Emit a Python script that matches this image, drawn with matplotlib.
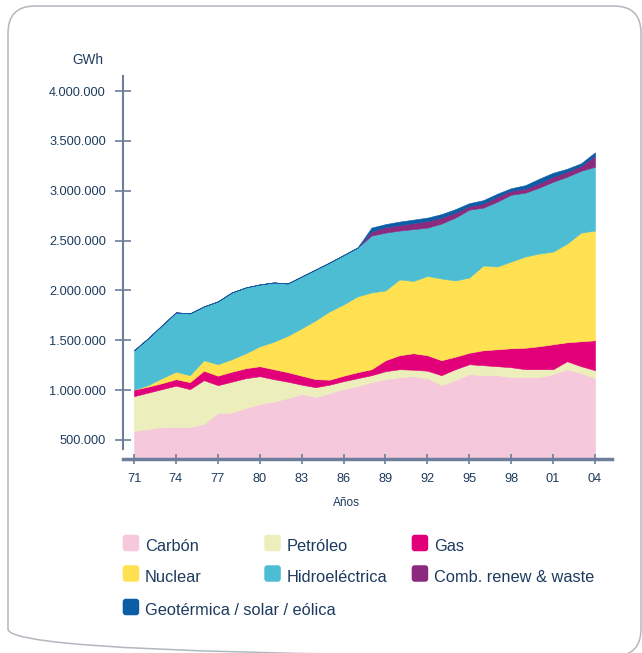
import matplotlib
matplotlib.use("Agg")
import matplotlib.pyplot as plt
from matplotlib.patches import FancyBboxPatch
from matplotlib.ticker import FuncFormatter

plt.rcParams['font.family'] = ['Liberation Sans', 'DejaVu Sans']

# ---------------- data (thousand GWh) ----------------
years = list(range(1971, 2005))
carbon = [590, 610, 630, 630, 630, 660, 770, 775, 820, 860, 885, 920, 960, 930, 970, 1010, 1040,
          1080, 1110, 1130, 1140, 1120, 1050, 1100, 1160, 1150, 1150, 1130, 1130, 1130, 1160, 1210, 1170, 1120]
petroleo = [350, 365, 380, 415, 380, 440, 280, 310, 300, 280, 225, 165, 95, 100, 85, 80, 80,
            70, 80, 80, 65, 75, 100, 110, 100, 100, 90, 100, 80, 80, 50, 80, 70, 80]
gas = [65, 60, 60, 65, 70, 95, 95, 100, 100, 100, 100, 95, 90, 80, 50, 55, 60,
       60, 110, 140, 165, 155, 150, 125, 115, 150, 170, 190, 215, 230, 250, 190, 250, 300]
nuclear = [0, 15, 50, 75, 70, 105, 115, 125, 150, 200, 275, 365, 475, 590, 685, 715, 760,
           770, 700, 760, 725, 795, 820, 765, 755, 850, 830, 870, 915, 930, 930, 990, 1090, 1100]
hidro = [395, 470, 530, 595, 620, 540, 630, 670, 660, 620, 595, 525, 520, 510, 490, 495, 490,
         570, 580, 490, 520, 485, 550, 630, 680, 580, 650, 670, 640, 660, 700, 670, 620, 640]
renew = [0] * 17 + [40, 55, 55, 60, 65, 60, 50, 35, 40, 50, 40, 40, 45, 50, 50, 50, 110]
geo = [0] * 17 + [40, 30, 35, 35, 35, 35, 35, 30, 35, 30, 25, 35, 45, 40, 30, 25, 35]

series = [carbon, petroleo, gas, nuclear, hidro, renew, geo]
labels = ["Carbón", "Petróleo", "Gas", "Nuclear", "Hidroeléctrica",
          "Comb. renew & waste", "Geotérmica / solar / eólica"]
colors = ["#F5C8DB", "#ECEEBB", "#E2007A", "#FFE152", "#4DBDD3", "#8C2A7E", "#0B5DA6"]

xtick_years = list(range(1971, 2005, 3))
xtick_labels = ["71", "74", "77", "80", "83", "86", "89", "92", "95", "98", "01", "04"]
yticks = list(range(500000, 4000001, 500000))

# ---------------- layout ----------------
W, H = 642, 653
NAVY = "#1D3A5E"
AXC = "#6D7D9C"

fig = plt.figure(figsize=(W / 100, H / 100), dpi=100)

# overlay in pixel coords
ov = fig.add_axes([0, 0, 1, 1])
ov.set_xlim(0, W)
ov.set_ylim(H, 0)
ov.axis("off")
ov.patch.set_alpha(0)
ov.add_patch(FancyBboxPatch((8, 6), 633, 650, boxstyle="round,pad=0,rounding_size=27",
                            fill=False, ec="#B3B7BF", lw=1.1, clip_on=False))

# legend
col_x = [122.7, 264.3, 411.7]
row_y = [543, 573.5, 607]
sq = 16.5
for i, (lab, c) in enumerate(zip(labels, colors)):
    r, k = divmod(i, 3)
    x0, yc = col_x[k], row_y[r]
    ov.add_patch(FancyBboxPatch((x0, yc - sq / 2), sq, sq, boxstyle="round,pad=0,rounding_size=3",
                                fc=c, ec="none"))
    ov.text(x0 + 22.4, yc + 8, lab, fontsize=11.8, color=NAVY, ha="left", va="baseline")

ov.text(88, 60, "GWh", fontsize=9.8, color=NAVY, ha="center", va="center")
ov.text(346, 503, "Años", fontsize=8.5, color=NAVY, ha="center", va="center")

# main axes
axl, axr, axt, axb = 123, 612, 76, 459
ax = fig.add_axes([axl / W, 1 - axb / H, (axr - axl) / W, (axb - axt) / H])
ax.patch.set_alpha(0)

ppy = (595 - 134) / 33.0
ax.set_xlim(1971 - (134 - axl) / ppy, 2004 + (axr - 595) / ppy)
ppm = (440 - 91) / 3.5e6
y0 = 500000 - (axb - 440) / ppm
y1 = 4000000 + (91 - axt) / ppm
ax.set_ylim(y0, y1)

vals = [[v * 1000 for v in s] for s in series]
ax.stackplot(years, *vals, colors=colors, linewidth=0.4, edgecolor="face")

for s in ["top", "right"]:
    ax.spines[s].set_visible(False)
ax.spines["left"].set_color(AXC)
ax.spines["left"].set_linewidth(1.5)
ax.spines["left"].set_bounds(500000 - (449 - 440) / ppm, y1)
ax.spines["bottom"].set_color(AXC)
ax.spines["bottom"].set_linewidth(2.5)

ax.set_yticks(yticks)
ax.yaxis.set_major_formatter(FuncFormatter(lambda v, p: f"{int(round(v)):,}".replace(",", ".")))
ax.set_xticks(xtick_years)
ax.set_xticklabels(xtick_labels)
ax.tick_params(axis="y", direction="inout", length=11.5, width=1.2, color=AXC,
               labelsize=9.2, labelcolor=NAVY, pad=6.5)
ax.tick_params(axis="x", direction="inout", length=7.2, width=1.2, color=AXC,
               labelsize=9.2, labelcolor=NAVY, pad=6.5)

fig.savefig("out.png", dpi=100)
